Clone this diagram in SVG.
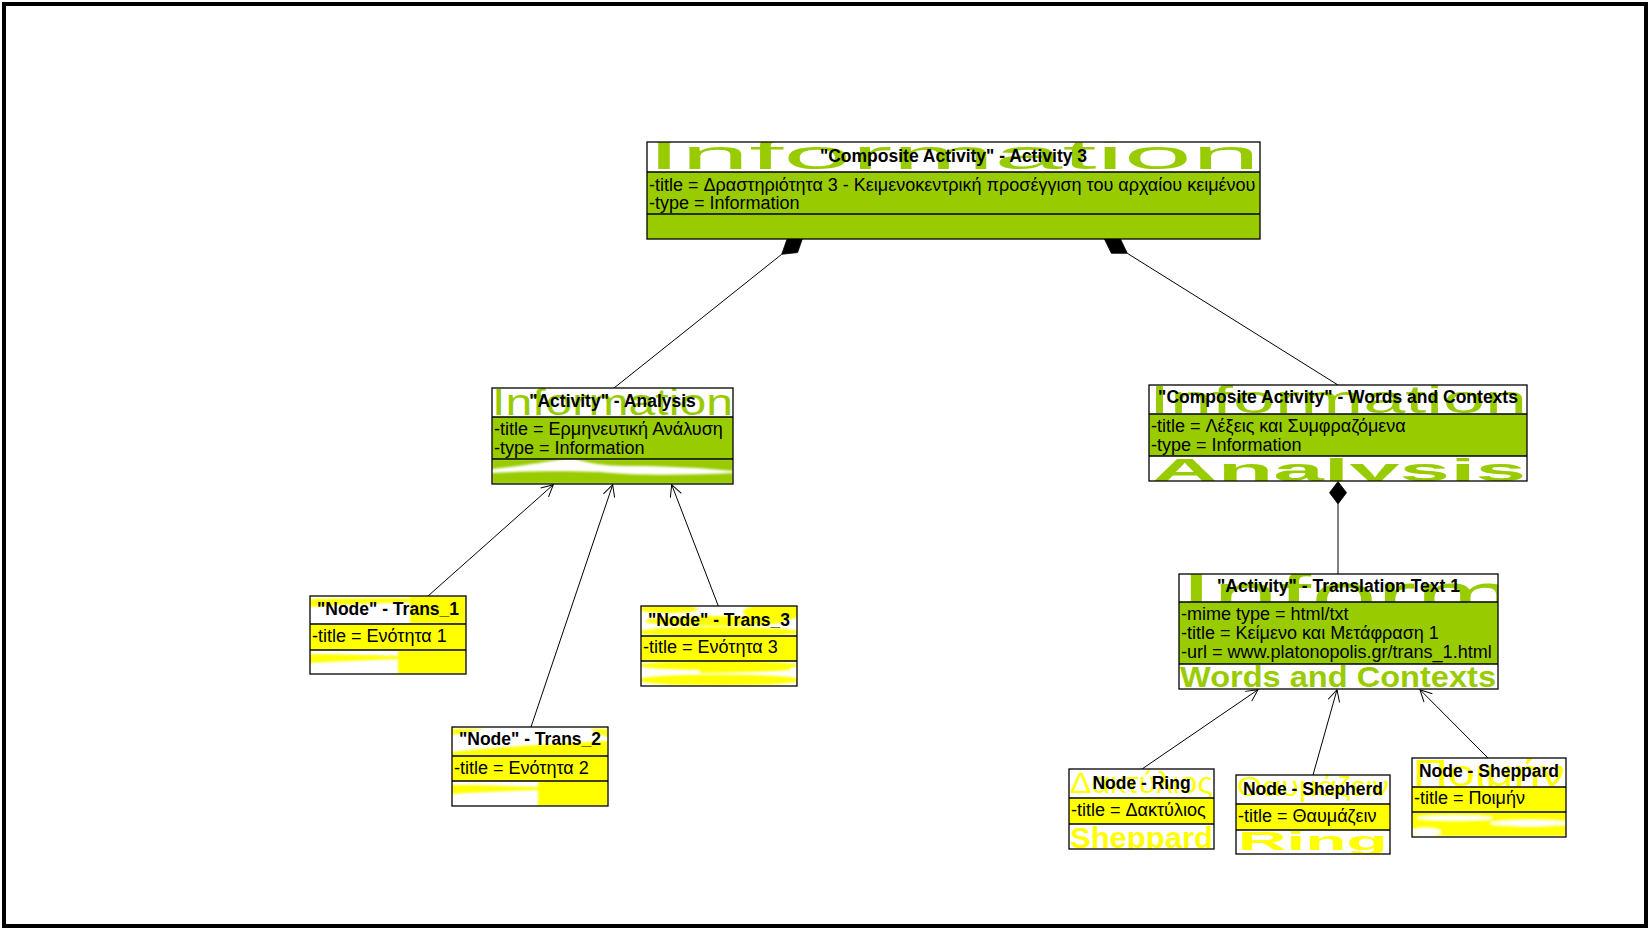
<svg xmlns="http://www.w3.org/2000/svg" width="1650" height="930" viewBox="0 0 1650 930">
<defs>
<style>
.frame{fill:#fff;stroke:#000;stroke-width:4}
.box{fill:none;stroke:#000;stroke-width:1.3}
.sep{stroke:#000;stroke-width:1.3}
.g{fill:#99CC00}
.y{fill:#FFFF00}
.w{fill:#fff}
.ttl{font-family:"Liberation Sans",Arial,sans-serif;font-weight:bold;font-size:17.5px;text-anchor:middle;fill:#000}
.att{font-family:"Liberation Sans",Arial,sans-serif;font-size:18px;fill:#000}
.bgG{font-family:"Liberation Sans",Arial,sans-serif;fill:#99CC00}
.bgY{font-family:"Liberation Sans",Arial,sans-serif;fill:#FFFF00}
.bold{font-weight:bold}
.link{stroke:#000;stroke-width:1;fill:none}
.dia{fill:#000;stroke:#000;stroke-width:0.8}
</style>
<marker id="open" markerUnits="userSpaceOnUse" viewBox="-14 -8 16 16" refX="0" refY="0" markerWidth="16" markerHeight="16" orient="auto">
  <path d="M-11.6,-5.9 L0,0 L-11.6,5.9" fill="none" stroke="#000" stroke-width="1"/>
</marker>
<filter id="soft" x="-10%" y="-50%" width="120%" height="200%"><feGaussianBlur stdDeviation="0.9"/></filter>
<!-- compartment clips -->
<clipPath id="c-a3h"><rect x="647" y="142" width="613" height="30"/></clipPath>
<clipPath id="c-anh"><rect x="492" y="388" width="241" height="29"/></clipPath>
<clipPath id="c-anb"><rect x="492" y="459" width="241" height="25"/></clipPath>
<clipPath id="c-wch"><rect x="1149" y="385" width="378" height="29"/></clipPath>
<clipPath id="c-wcb"><rect x="1149" y="456" width="378" height="25"/></clipPath>
<clipPath id="c-tth"><rect x="1179" y="574" width="319" height="28"/></clipPath>
<clipPath id="c-ttb"><rect x="1179" y="664" width="319" height="25"/></clipPath>
<clipPath id="c-t1h"><rect x="310" y="596" width="156" height="28"/></clipPath>
<clipPath id="c-t1b"><rect x="310" y="650" width="156" height="24"/></clipPath>
<clipPath id="c-t2h"><rect x="452" y="727" width="156" height="29"/></clipPath>
<clipPath id="c-t2b"><rect x="452" y="781" width="156" height="25"/></clipPath>
<clipPath id="c-t3h"><rect x="641" y="606" width="156" height="30"/></clipPath>
<clipPath id="c-t3b"><rect x="641" y="661" width="156" height="25"/></clipPath>
<clipPath id="c-rgh"><rect x="1069" y="769" width="145" height="29"/></clipPath>
<clipPath id="c-rgb"><rect x="1069" y="824" width="145" height="25"/></clipPath>
<clipPath id="c-shh"><rect x="1236" y="775" width="154" height="29"/></clipPath>
<clipPath id="c-shb"><rect x="1236" y="830" width="154" height="24"/></clipPath>
<clipPath id="c-spH"><rect x="1412" y="758" width="154" height="29"/></clipPath>
<clipPath id="c-spb"><rect x="1412" y="812" width="154" height="25"/></clipPath>
</defs>

<rect class="frame" x="4" y="4" width="1642" height="922"/>

<!-- connectors -->
<g id="connectors">
  <line class="link" x1="781.7" y1="254.3" x2="614" y2="388"/>
  <polygon class="dia" points="781.7,254.3 797.6,252.6 802.8,237.5 787,239.3"/>
  <line class="link" x1="1127.3" y1="253.3" x2="1338" y2="385"/>
  <polygon class="dia" points="1127.3,253.3 1111.4,253.3 1104.4,239 1120.4,238.9"/>
  <line class="link" x1="1338" y1="504" x2="1338" y2="574"/>
  <polygon class="dia" points="1338,481.5 1346.5,492.7 1338,504 1329.5,492.7"/>
  <line class="link" x1="428" y1="596" x2="553.3" y2="484.7" marker-end="url(#open)"/>
  <line class="link" x1="531" y1="727" x2="612.7" y2="484.7" marker-end="url(#open)"/>
  <line class="link" x1="718.3" y1="606" x2="671.7" y2="484.7" marker-end="url(#open)"/>
  <line class="link" x1="1142" y1="769" x2="1258" y2="689.7" marker-end="url(#open)"/>
  <line class="link" x1="1313" y1="775" x2="1337" y2="689.7" marker-end="url(#open)"/>
  <line class="link" x1="1488" y1="758" x2="1420" y2="689.7" marker-end="url(#open)"/>
</g>

<!-- Composite Activity: Activity 3 -->
<g id="activity3">
  <rect class="w" x="647" y="142" width="613" height="30"/>
  <g clip-path="url(#c-a3h)"><text class="bgG" x="647" y="169" font-size="40" textLength="613" lengthAdjust="spacingAndGlyphs">Information</text></g>
  <rect class="g" x="647" y="172" width="613" height="67"/>
  <text class="ttl" x="953.5" y="162">"Composite Activity" - Activity 3</text>
  <text class="att" x="649" y="191">-title = Δραστηριότητα 3 - Κειμενοκεντρική προσέγγιση του αρχαίου κειμένου</text>
  <text class="att" x="649" y="209">-type = Information</text>
  <line class="sep" x1="647" y1="172" x2="1260" y2="172"/>
  <line class="sep" x1="647" y1="214" x2="1260" y2="214"/>
  <rect class="box" x="647" y="142" width="613" height="97"/>
</g>

<!-- Activity: Analysis -->
<g id="analysis">
  <rect class="w" x="492" y="388" width="241" height="96"/>
  <g clip-path="url(#c-anh)"><text class="bgG" x="492" y="415" font-size="36" textLength="241" lengthAdjust="spacingAndGlyphs">Information</text></g>
  <rect class="g" x="492" y="417" width="241" height="42"/>
  <g clip-path="url(#c-anb)"><g class="g" filter="url(#soft)">
    <path d="M492,459 L565,459 C545,462 520,466 492,469 Z"/>
    <path d="M575,459 L733,459 L733,471 C705,468 665,466 625,466 C605,466 588,463 575,459 Z"/>
    <path d="M492,473 C530,471 570,471 600,472 C640,476 690,475 733,473 L733,484 L492,484 Z"/>
  </g></g>
  <text class="ttl" x="612.5" y="407">"Activity" - Analysis</text>
  <text class="att" x="494" y="435">-title = Ερμηνευτική Ανάλυση</text>
  <text class="att" x="494" y="454">-type = Information</text>
  <line class="sep" x1="492" y1="417" x2="733" y2="417"/>
  <line class="sep" x1="492" y1="459" x2="733" y2="459"/>
  <rect class="box" x="492" y="388" width="241" height="96"/>
</g>

<!-- Composite Activity: Words and Contexts -->
<g id="words-contexts">
  <rect class="w" x="1149" y="385" width="378" height="96"/>
  <g clip-path="url(#c-wch)"><text class="bgG" x="1149" y="413" font-size="38" textLength="378" lengthAdjust="spacingAndGlyphs">Information</text></g>
  <rect class="g" x="1149" y="414" width="378" height="42"/>
  <g clip-path="url(#c-wcb)"><text class="bgG bold" x="1152" y="481" font-size="32" textLength="374" lengthAdjust="spacingAndGlyphs">Analysis</text></g>
  <text class="ttl" x="1338" y="403">"Composite Activity" - Words and Contexts</text>
  <text class="att" x="1151" y="432">-title = Λέξεις και Συμφραζόμενα</text>
  <text class="att" x="1151" y="451">-type = Information</text>
  <line class="sep" x1="1149" y1="414" x2="1527" y2="414"/>
  <line class="sep" x1="1149" y1="456" x2="1527" y2="456"/>
  <rect class="box" x="1149" y="385" width="378" height="96"/>
</g>

<!-- Activity: Translation Text 1 -->
<g id="translation1">
  <rect class="w" x="1179" y="574" width="319" height="115"/>
  <g clip-path="url(#c-tth)"><text class="bgG" x="1180" y="616" font-size="62" textLength="590" lengthAdjust="spacingAndGlyphs">Information</text></g>
  <rect class="g" x="1179" y="602" width="319" height="62"/>
  <g clip-path="url(#c-ttb)"><text class="bgG bold" x="1180" y="687" font-size="30" textLength="316" lengthAdjust="spacingAndGlyphs">Words and Contexts</text></g>
  <text class="ttl" x="1338.5" y="592">"Activity" - Translation Text 1</text>
  <text class="att" x="1181" y="620">-mime type = html/txt</text>
  <text class="att" x="1181" y="639">-title = Κείμενο και Μετάφραση 1</text>
  <text class="att" x="1181" y="658">-url = www.platonopolis.gr/trans_1.html</text>
  <line class="sep" x1="1179" y1="602" x2="1498" y2="602"/>
  <line class="sep" x1="1179" y1="664" x2="1498" y2="664"/>
  <rect class="box" x="1179" y="574" width="319" height="115"/>
</g>

<!-- Node: Trans_1 -->
<g id="trans1">
  <rect class="w" x="310" y="596" width="156" height="78"/>
  <g clip-path="url(#c-t1h)"><g class="y" filter="url(#soft)">
    <path d="M310,599 C350,598 390,598 416,598 L416,602 C390,603 350,604 310,607 Z"/>
    <rect x="410" y="596" width="56" height="28"/>
  </g></g>
  <rect class="y" x="310" y="624" width="156" height="26"/>
  <g clip-path="url(#c-t1b)"><g class="y" filter="url(#soft)">
    <path d="M310,654 C340,654 370,655 400,656 L400,659 C370,660 340,661 310,663 Z"/>
    <rect x="398" y="650" width="68" height="24"/>
  </g></g>
  <text class="ttl" x="388" y="615">"Node" - Trans_1</text>
  <text class="att" x="312" y="642">-title = Ενότητα 1</text>
  <line class="sep" x1="310" y1="624" x2="466" y2="624"/>
  <line class="sep" x1="310" y1="650" x2="466" y2="650"/>
  <rect class="box" x="310" y="596" width="156" height="78"/>
</g>

<!-- Node: Trans_2 -->
<g id="trans2">
  <rect class="w" x="452" y="727" width="156" height="79"/>
  <g clip-path="url(#c-t2h)"><g class="y" filter="url(#soft)">
    <path d="M452,729 L485,729 C475,731 465,733 452,735 Z"/>
    <path d="M590,729 L608,729 L608,737 C600,735 595,732 590,729 Z"/>
    <path d="M452,752 C500,747 560,743 608,741 L608,756 L452,756 Z"/>
  </g></g>
  <rect class="y" x="452" y="756" width="156" height="25"/>
  <g clip-path="url(#c-t2b)"><g class="y" filter="url(#soft)">
    <path d="M452,785 C480,785 510,786 540,787 L540,790 C510,791 480,792 452,794 Z"/>
    <rect x="538" y="781" width="70" height="25"/>
  </g></g>
  <text class="ttl" x="530" y="745">"Node" - Trans_2</text>
  <text class="att" x="454" y="774">-title = Ενότητα 2</text>
  <line class="sep" x1="452" y1="756" x2="608" y2="756"/>
  <line class="sep" x1="452" y1="781" x2="608" y2="781"/>
  <rect class="box" x="452" y="727" width="156" height="79"/>
</g>

<!-- Node: Trans_3 -->
<g id="trans3">
  <rect class="w" x="641" y="606" width="156" height="80"/>
  <g clip-path="url(#c-t3h)"><g class="y" filter="url(#soft)">
    <ellipse cx="668" cy="609" rx="30" ry="4"/>
    <ellipse cx="775" cy="612" rx="32" ry="8"/>
    <ellipse cx="715" cy="621" rx="70" ry="5"/>
    <ellipse cx="719" cy="632" rx="82" ry="5"/>
  </g></g>
  <rect class="y" x="641" y="636" width="156" height="25"/>
  <g clip-path="url(#c-t3b)"><g class="y" filter="url(#soft)">
    <ellipse cx="719" cy="665.5" rx="80" ry="4.5"/>
    <path d="M700,670 C730,669 760,668 790,667 L790,670 C760,672 730,673 700,673 Z"/>
    <ellipse cx="719" cy="680" rx="82" ry="5.5"/>
  </g></g>
  <text class="ttl" x="719" y="626">"Node" - Trans_3</text>
  <text class="att" x="643" y="653">-title = Ενότητα 3</text>
  <line class="sep" x1="641" y1="636" x2="797" y2="636"/>
  <line class="sep" x1="641" y1="661" x2="797" y2="661"/>
  <rect class="box" x="641" y="606" width="156" height="80"/>
</g>

<!-- Node: Ring -->
<g id="ring">
  <rect class="w" x="1069" y="769" width="145" height="80"/>
  <g clip-path="url(#c-rgh)"><text class="bgY" x="1070" y="793" font-size="30" textLength="143" lengthAdjust="spacingAndGlyphs">Δακτύλιος</text></g>
  <rect class="y" x="1069" y="798" width="145" height="26"/>
  <g clip-path="url(#c-rgb)"><text class="bgY bold" x="1070" y="848" font-size="29" textLength="143" lengthAdjust="spacingAndGlyphs">Sheppard</text></g>
  <text class="ttl" x="1141.5" y="789">Node - Ring</text>
  <text class="att" x="1071" y="816">-title = Δακτύλιος</text>
  <line class="sep" x1="1069" y1="798" x2="1214" y2="798"/>
  <line class="sep" x1="1069" y1="824" x2="1214" y2="824"/>
  <rect class="box" x="1069" y="769" width="145" height="80"/>
</g>

<!-- Node: Shepherd -->
<g id="shepherd">
  <rect class="w" x="1236" y="775" width="154" height="79"/>
  <g clip-path="url(#c-shh)"><text class="bgY" x="1237" y="796" font-size="27" textLength="152" lengthAdjust="spacingAndGlyphs">Θαυμάζειν</text></g>
  <rect class="y" x="1236" y="804" width="154" height="26"/>
  <g clip-path="url(#c-shb)"><text class="bgY bold" x="1238" y="850" font-size="26" textLength="150" lengthAdjust="spacingAndGlyphs">Ring</text></g>
  <text class="ttl" x="1313" y="795">Node - Shepherd</text>
  <text class="att" x="1238" y="822">-title = Θαυμάζειν</text>
  <line class="sep" x1="1236" y1="804" x2="1390" y2="804"/>
  <line class="sep" x1="1236" y1="830" x2="1390" y2="830"/>
  <rect class="box" x="1236" y="775" width="154" height="79"/>
</g>

<!-- Node: Sheppard -->
<g id="sheppard">
  <rect class="w" x="1412" y="758" width="154" height="79"/>
  <g clip-path="url(#c-spH)"><text class="bgY" x="1413" y="786" font-size="37" textLength="152" lengthAdjust="spacingAndGlyphs">Ποιμήν</text></g>
  <rect class="y" x="1412" y="787" width="154" height="25"/>
  <g clip-path="url(#c-spb)"><g filter="url(#soft)">
    <rect class="y" x="1412" y="812" width="154" height="24"/>
    <ellipse class="w" cx="1455" cy="818" rx="38" ry="2.5"/>
    <ellipse class="w" cx="1530" cy="823" rx="40" ry="3"/>
    <ellipse class="w" cx="1425" cy="832" rx="16" ry="4"/>
  </g></g>
  <text class="ttl" x="1489" y="777">Node - Sheppard</text>
  <text class="att" x="1414" y="804">-title = Ποιμήν</text>
  <line class="sep" x1="1412" y1="787" x2="1566" y2="787"/>
  <line class="sep" x1="1412" y1="812" x2="1566" y2="812"/>
  <rect class="box" x="1412" y="758" width="154" height="79"/>
</g>
</svg>
